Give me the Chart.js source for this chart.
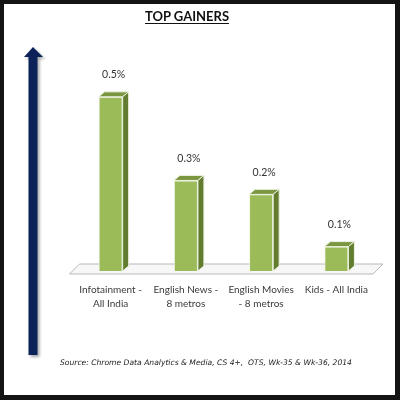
<!DOCTYPE html>
<html>
<head>
<meta charset="utf-8">
<script src="https://cdn.jsdelivr.net/npm/chart.js@4/dist/chart.umd.min.js"></script>
<style>
  html, body { margin: 0; padding: 0; background: #fff; }
  #wrap { position: relative; width: 400px; height: 400px; overflow: hidden; background: #fff; }
  #chart { position: absolute; left: 0; top: 0; }
  #frame {
    position: absolute; left: 0; top: 0; width: 400px; height: 400px;
    box-sizing: border-box; border-style: solid; border-color: #141414;
    border-width: 4px 5px 5px 4px; pointer-events: none;
  }
  #title {
    position: absolute; left: 0; width: 374px; top: 8px; text-align: center;
    font: bold 13px Lato, sans-serif; color: #111; text-decoration: underline;
    text-underline-offset: 2px;
  }
  #source {
    position: absolute; left: 60px; top: 358px; white-space: nowrap;
    font: italic 7.6px "DejaVu Sans", sans-serif; color: #222;
  }
  #arrow { position: absolute; left: 0; top: 0; pointer-events: none; }
</style>
</head>
<body>
<div id="wrap">
  <canvas id="chart" width="400" height="400"></canvas>
  <svg id="arrow" width="60" height="380">
    <defs>
      <filter id="sh" x="-50%" y="-10%" width="200%" height="120%">
        <feGaussianBlur in="SourceAlpha" stdDeviation="1.5"/>
        <feOffset dx="2" dy="2" result="b"/>
        <feComponentTransfer><feFuncA type="linear" slope="0.35"/></feComponentTransfer>
        <feMerge><feMergeNode/><feMergeNode in="SourceGraphic"/></feMerge>
      </filter>
    </defs>
    <polygon filter="url(#sh)" fill="#0a2159"
      points="33,47 43,57 37.5,57 37.5,355 28.5,355 28.5,57 24,57"/>
  </svg>
  <div id="title">TOP GAINERS</div>
  <div id="source">Source: Chrome Data Analytics &amp; Media, CS 4+,&nbsp; OTS, Wk-35 &amp; Wk-36, 2014</div>
  <div id="frame"></div>
</div>
<script>
// categories (two-line tick labels)
const categories = [
  ['Infotainment -', 'All India'],
  ['English News -', '8 metros'],
  ['English Movies', '- 8 metros'],
  ['Kids - All India']
];
// gain in %
const gains = [0.50, 0.26, 0.22, 0.07];
// labels as printed above the bars
const gainLabels = ['0.5%', '0.3%', '0.2%', '0.1%'];

const FRONT = '#9bbb59';
const TOP = '#7a963f';
const SIDE = '#627d2f';
const EDGE = '#eef3e2';
const DX = 6, DY = 5;

// white floor under the bars
const floorPlugin = {
  id: 'floor',
  beforeDatasetsDraw(chart) {
    const { ctx, chartArea } = chart;
    const base = chart.scales.y.getPixelForValue(0);
    ctx.save();
    ctx.beginPath();
    ctx.moveTo(chartArea.left - 3.5, base + 3);
    ctx.lineTo(chartArea.left + 6.5, base - 7);
    ctx.lineTo(chartArea.right + 9, base - 7);
    ctx.lineTo(chartArea.right - 1, base + 3);
    ctx.closePath();
    ctx.fillStyle = '#f7f7f7';
    ctx.fill();
    ctx.strokeStyle = '#b8b8b8';
    ctx.lineWidth = 1;
    ctx.stroke();
    ctx.restore();
  }
};

// top and side faces, plus value labels
const boxPlugin = {
  id: 'box3d',
  afterDatasetsDraw(chart) {
    const { ctx } = chart;
    const meta = chart.getDatasetMeta(0);
    ctx.save();
    ctx.lineWidth = 1;
    ctx.strokeStyle = EDGE;
    meta.data.forEach((bar, i) => {
      const l = bar.x - bar.width / 2;
      const r = bar.x + bar.width / 2;
      const t = bar.y;
      const b = bar.base;
      ctx.beginPath();
      ctx.moveTo(l, t);
      ctx.lineTo(l + DX, t - DY);
      ctx.lineTo(r + DX, t - DY);
      ctx.lineTo(r, t);
      ctx.closePath();
      ctx.fillStyle = TOP;
      ctx.fill();
      ctx.stroke();
      ctx.beginPath();
      ctx.moveTo(r, t);
      ctx.lineTo(r + DX, t - DY);
      ctx.lineTo(r + DX, b - DY);
      ctx.lineTo(r, b);
      ctx.closePath();
      ctx.fillStyle = SIDE;
      ctx.fill();
      ctx.stroke();

      ctx.fillStyle = '#333';
      ctx.font = '10.5px Lato, sans-serif';
      ctx.textAlign = 'center';
      ctx.textBaseline = 'middle';
      ctx.fillText(gainLabels[i], bar.x + 3, t - 22);
    });
    ctx.restore();
  }
};

new Chart(document.getElementById('chart'), {
  type: 'bar',
  data: {
    labels: categories,
    datasets: [{
      data: gains,
      backgroundColor: FRONT,
      borderColor: EDGE,
      borderWidth: 1,
      barPercentage: 0.64,
      categoryPercentage: 0.5
    }]
  },
  options: {
    responsive: false,
    animation: false,
    layout: { padding: { top: 62, left: 73, right: 26, bottom: 77 } },
    plugins: { legend: { display: false }, tooltip: { enabled: false } },
    scales: {
      y: { display: false, min: 0, max: 0.6 },
      x: {
        grid: { display: false, drawTicks: false },
        border: { display: false },
        ticks: {
          padding: 12,
          color: '#3a3a3a',
          font: { family: 'Lato, sans-serif', size: 10, lineHeight: 1.4 },
          maxRotation: 0,
          autoSkip: false
        }
      }
    }
  },
  plugins: [floorPlugin, boxPlugin]
});
</script>
</body>
</html>
